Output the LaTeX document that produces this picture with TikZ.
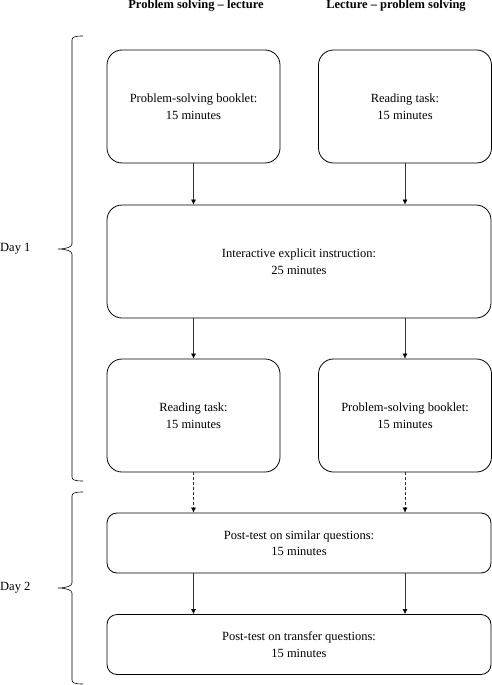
\documentclass[tikz,border=0pt]{standalone}
\usepackage{fontspec}
\setmainfont{Liberation Serif}
\usetikzlibrary{arrows.meta}
\begin{document}
\begin{tikzpicture}[x=1pt,y=-1pt,
  stepbox/.style={draw=black,line width=0.8pt,rounded corners=15pt,align=center,inner sep=0pt,font=\fontsize{12.5}{16.5}\selectfont},
  bigbox/.style={stepbox,minimum width=173pt,minimum height=113pt},
  widebox/.style={stepbox,minimum width=384pt,minimum height=113pt},
  flatbox/.style={stepbox,rounded corners=10pt,minimum width=384pt,minimum height=60pt},
  flow/.style={line width=0.6pt,black!80,-{Latex[length=5pt,width=5pt,black]}},
  dflow/.style={flow,dashed,dash pattern=on 3pt off 2pt},
  head/.style={font=\bfseries\fontsize{12.5}{15}\selectfont,anchor=base},
  daylabel/.style={font=\fontsize{12.5}{15}\selectfont,anchor=west,inner sep=0pt},
  bracepath/.style={line width=0.6pt,black}]
\useasboundingbox (0,0) rectangle (492,685);
\node[head] (h1) at (196,9) {Problem solving -- lecture};
\node[head] (h2) at (396,9) {Lecture -- problem solving};

\node[bigbox] (tl) at (193.5,106.5) {Problem-solving booklet:\\15 minutes};
\node[bigbox] (tr) at (405,106.5) {Reading task:\\15 minutes};
\node[widebox] (mid) at (299,261.5) {Interactive explicit instruction:\\25 minutes};
\node[bigbox] (ll) at (193.5,415.5) {Reading task:\\15 minutes};
\node[bigbox] (lr) at (405,415.5) {Problem-solving booklet:\\15 minutes};
\node[flatbox] (p1) at (299,543) {Post-test on similar questions:\\15 minutes};
\node[flatbox] (p2) at (299,644.5) {Post-test on transfer questions:\\15 minutes};

\draw[flow] (tl.south) -- (tl.south |- mid.north);
\draw[flow] (tr.south) -- (tr.south |- mid.north);
\draw[flow] (ll.north |- mid.south) -- (ll.north);
\draw[flow] (lr.north |- mid.south) -- (lr.north);
\draw[dflow] (ll.south) -- (ll.south |- p1.north);
\draw[dflow] (lr.south) -- (lr.south |- p1.north);
\draw[flow] (ll.south |- p1.south) -- (ll.south |- p2.north);
\draw[flow] (lr.south |- p1.south) -- (lr.south |- p2.north);

% Day 1 brace
\draw[bracepath] (83,36) .. controls (75,36) and (72,37) .. (72,40)
  -- (72,244) .. controls (72,247) and (66,249) .. (58,249)
  .. controls (66,249) and (72,251) .. (72,254)
  -- (72,477) .. controls (72,480) and (75,481) .. (83,481);
\node[daylabel] (d1) at (0,249) {Day 1};
% Day 2 brace
\draw[bracepath] (83,492) .. controls (75,492) and (72,493) .. (72,496)
  -- (72,583) .. controls (72,586) and (66,588) .. (58,588)
  .. controls (66,588) and (72,590) .. (72,593)
  -- (72,680) .. controls (72,683) and (75,684) .. (83,684);
\node[daylabel] (d2) at (0,588) {Day 2};
\end{tikzpicture}
\end{document}
